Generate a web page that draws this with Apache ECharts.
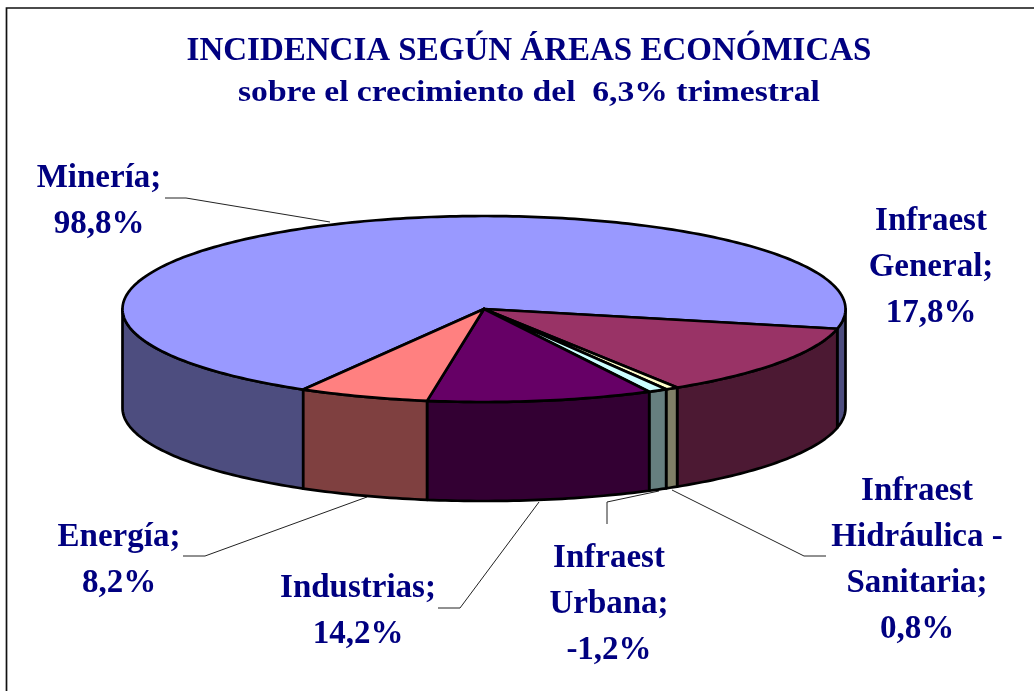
<!DOCTYPE html>
<html>
<head>
<meta charset="utf-8">
<title>Incidencia según áreas económicas</title>
<script src="https://cdn.jsdelivr.net/npm/echarts@6/dist/echarts.min.js"></script>
<style>
    html, body { margin: 0; padding: 0; background: #fff; }
    #chart { width: 1034px; height: 691px; }
</style>
</head>
<body>
<div id="chart"></div>
<script>
// Datos
var areas = ["Minería", "Infraest General", "Infraest Hidráulica - Sanitaria", "Infraest Urbana", "Industrias", "Energía"];
var incidencia = [98.8, 17.8, 0.8, -1.2, 14.2, 8.2];
var coloresTapa = ["#9999ff", "#993366", "#ffffcc", "#ccffff", "#660066", "#ff8080"];
var coloresLado = ["#4d4d7f", "#4c1933", "#7f7f66", "#667f7f", "#330033", "#7f4040"];
var etiquetas = [
    ["Minería;", "98,8%"],
    ["Infraest", "General;", "17,8%"],
    ["Infraest", "Hidráulica -", "Sanitaria;", "0,8%"],
    ["Infraest", "Urbana;", "-1,2%"],
    ["Industrias;", "14,2%"],
    ["Energía;", "8,2%"]
];
var titulo = ["INCIDENCIA SEGÚN ÁREAS ECONÓMICAS", "sobre el crecimiento del  6,3% trimestral"];

// ============================
// Geometria de la torta
// ============================
var cx = 484, cy = 309, rx = 361.5, ry = 93, alto = 99;
var anguloInicio = 120; // grados, horario desde el eje x
var total = incidencia.reduce((s, v) => s + Math.abs(v), 0);

function rango(i) {
    var a = anguloInicio;
    for (var k = 0; k < i; k++) a += Math.abs(incidencia[k]) / total * 360;
    return [a, a + Math.abs(incidencia[i]) / total * 360];
}
function punto(grados, dy) {
    var t = grados * Math.PI / 180;
    return [cx + rx * Math.cos(t), cy + ry * Math.sin(t) + (dy || 0)];
}
function arco(a0, a1, dy) {
    var pts = [], n = Math.max(2, Math.ceil(Math.abs(a1 - a0)));
    for (var k = 0; k <= n; k++) pts.push(punto(a0 + (a1 - a0) * k / n, dy));
    return pts;
}
var trazo = { stroke: "#000", lineWidth: 2.7, lineJoin: "round" };

// Pared lateral: solo la parte que mira al frente (0-180 grados, o 360-540)
function renderLado(params, api) {
    var i = api.value(0), r = rango(i), hijos = [];
    [[0, 180], [360, 540]].forEach(function (v) {
        var a0 = Math.max(r[0], v[0]), a1 = Math.min(r[1], v[1]);
        if (a1 <= a0) return;
        var pts = arco(a0, a1, 0).concat(arco(a1, a0, alto));
        hijos.push({
            type: "polygon",
            shape: { points: pts },
            style: Object.assign({ fill: coloresLado[i] }, trazo)
        });
    });
    return { type: "group", children: hijos };
}
function renderTapa(params, api) {
    var i = api.value(0), r = rango(i);
    return {
        type: "polygon",
        shape: { points: [[cx, cy]].concat(arco(r[0], r[1], 0)) },
        style: Object.assign({ fill: coloresTapa[i] }, trazo)
    };
}

// ============================
// Lineas guia y textos
// ============================
var lineasGuia = [
    [[165, 198], [186, 198], [330, 222]],
    [[367, 497], [205, 556], [183, 556]],
    [[539, 502], [460, 608], [438, 608]],
    [[659, 491], [607, 502], [607, 524]],
    [[672, 490], [804, 556], [826, 556]]
];
var posEtiquetas = [
    { x: 99, y: [178, 224] },
    { x: 931, y: [221, 267, 313] },
    { x: 917, y: [491, 537, 583, 629] },
    { x: 609, y: [558, 604, 650] },
    { x: 358, y: [588, 634] },
    { x: 119, y: [537, 583] }
];
function texto(t, x, y, size, escalaX) {
    return {
        type: "text",
        x: x, y: y, scaleX: escalaX || 1, z: 5,
        style: {
            text: t, fill: "#000080", align: "center", verticalAlign: "middle",
            font: "bold " + size + "px 'Liberation Serif', serif"
        }
    };
}
var graficos = [
    { type: "rect", shape: { x: 6.5, y: 8, width: 1040, height: 700 }, style: { fill: "#fff", stroke: "#111", lineWidth: 1.7 }, z: 0 },
    texto(titulo[0], 529, 51, 33),
    texto(titulo[1], 529, 93, 30, 1.12)
];
lineasGuia.forEach(function (p) {
    graficos.push({ type: "polyline", shape: { points: p }, style: { stroke: "#222", lineWidth: 1, fill: null }, z: 1 });
});
etiquetas.forEach(function (lineas, i) {
    lineas.forEach(function (t, k) {
        graficos.push(texto(t, posEtiquetas[i].x, posEtiquetas[i].y[k], 33));
    });
});

var chart = echarts.init(document.getElementById("chart"), null, { renderer: "canvas" });
var datos = areas.map((a, i) => ({ name: a, value: [i, Math.abs(incidencia[i])] }));
chart.setOption({
    animation: false,
    graphic: { elements: graficos },
    series: [
        { type: "custom", coordinateSystem: "none", name: "lado", z: 2, renderItem: renderLado, data: datos, silent: true },
        { type: "custom", coordinateSystem: "none", name: "tapa", z: 3, renderItem: renderTapa, data: datos, silent: true }
    ]
});
</script>
</body>
</html>
